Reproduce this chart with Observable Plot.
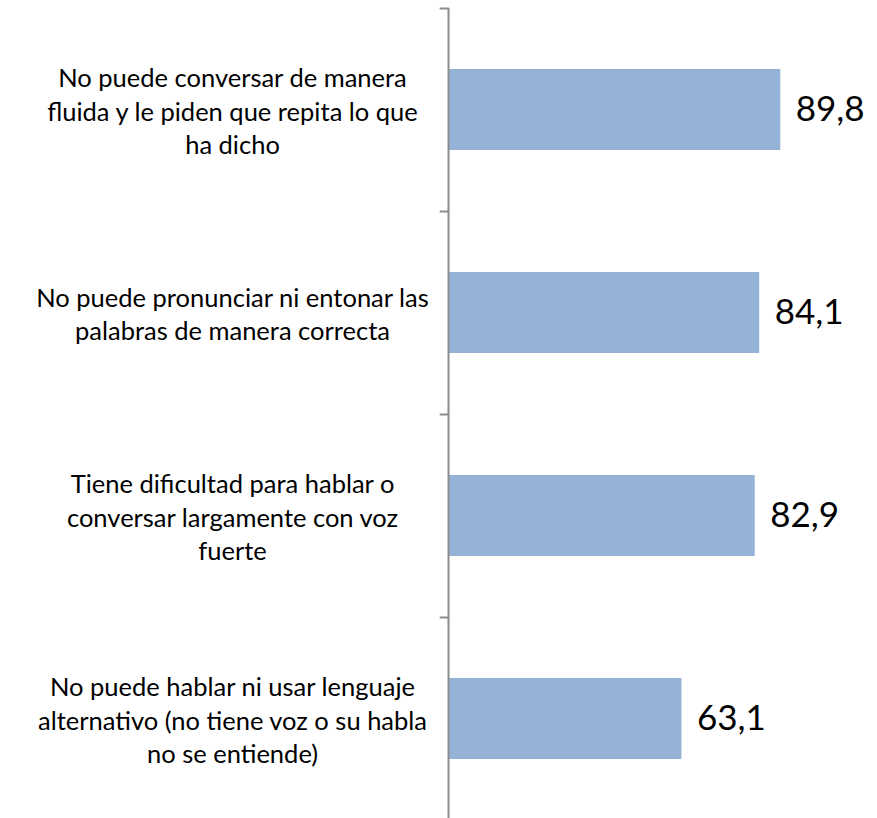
<!DOCTYPE html>
<html>
<head>
<meta charset="utf-8">
<script src="https://cdn.jsdelivr.net/npm/d3@7"></script>
<script src="https://cdn.jsdelivr.net/npm/@observablehq/plot@0.6"></script>
<style>
  html, body { margin: 0; padding: 0; background: #fff; }
  #chart svg { display: block; }
</style>
</head>
<body>
<div id="chart"></div>
<script>
const categories = [
  "No puede conversar de manera\nfluida y le piden que repita lo que\nha dicho",
  "No puede pronunciar ni entonar las\npalabras de manera correcta",
  "Tiene dificultad para hablar o\nconversar largamente con voz\nfuerte",
  "No puede hablar ni usar lenguaje\nalternativo (no tiene voz o su habla\nno se entiende)"
];
const values = [89.8, 84.1, 82.9, 63.1];
const valueLabels = ["89,8", "84,1", "82,9", "63,1"];

const data = categories.map((c, i) => ({cat: c, value: values[i], label: valueLabels[i]}));

const fontFamily = "Lato, 'Open Sans', sans-serif";
const step = (820 - 8) / categories.length;

const tickShape = {
  draw(context, l) {
    context.moveTo(0, 0);
    context.lineTo(0, -l);
  }
};

const chart = Plot.plot({
  width: 877,
  height: 818,
  marginLeft: 448,
  marginRight: 59,
  marginTop: 8,
  marginBottom: 0,
  style: {fontFamily, background: "#fff"},
  x: {domain: [0, 100], axis: null},
  y: {domain: categories, range: [8.5, 820.5], paddingInner: 0.6, paddingOuter: 0.3, axis: null},
  marks: [
    Plot.barX(data, {x: "value", y: "cat", fill: "#95B3D7"}),
    Plot.ruleX([0], {stroke: "#8c8c8c", strokeWidth: 2}),
    Plot.vector(categories, {x: () => 0, y: d => d, dy: -step / 2, length: 8, rotate: 270, anchor: "start",
      shape: tickShape, stroke: "#8c8c8c", strokeWidth: 2}),
    Plot.text(data, {x: 0, y: "cat", text: "cat", dx: -216, textAnchor: "middle",
      fontSize: 25.5, lineHeight: 1.31, fill: "#000"}),
    Plot.text(data, {x: "value", y: "cat", text: "label", dx: 15, textAnchor: "start",
      fontSize: 35, fill: "#000"})
  ]
});
document.getElementById("chart").appendChild(chart);
</script>
</body>
</html>
